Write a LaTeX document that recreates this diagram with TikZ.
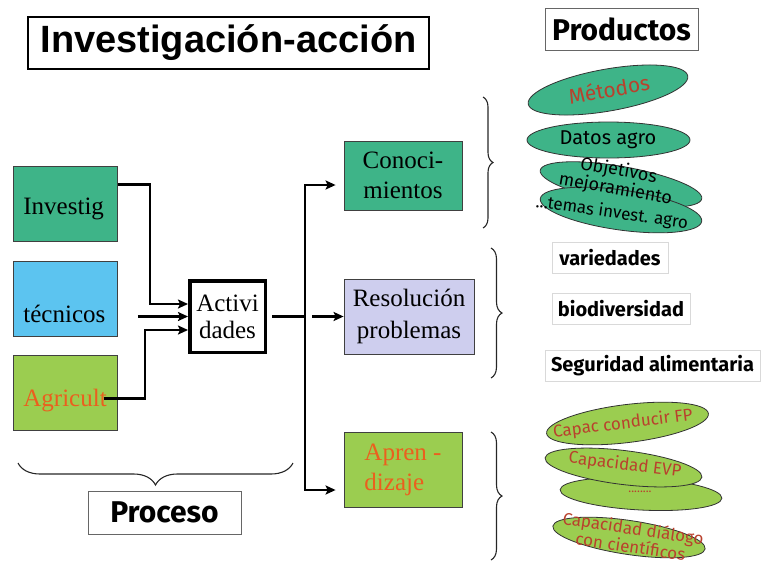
\documentclass[tikz,border=0pt]{standalone}
\usepackage{fontspec}
\setmainfont{Liberation Serif}
\newfontfamily\titlefont{Liberation Sans}
\newfontfamily\comic{Fira Sans}
\usetikzlibrary{shapes.geometric,arrows.meta,decorations.pathreplacing,calc}
\definecolor{tealA}{RGB}{62,180,136}
\definecolor{skyA}{RGB}{92,196,240}
\definecolor{limeA}{RGB}{155,205,80}
\definecolor{lavA}{RGB}{206,206,238}
\definecolor{orngA}{RGB}{235,95,30}
\definecolor{brnA}{RGB}{185,65,45}
\begin{document}
\begin{tikzpicture}[x=1pt,y=-1pt,
  serif25/.style={font=\fontsize{25}{30}\selectfont},
  box/.style={draw=black!75, line width=0.8pt, inner sep=0pt, align=center, serif25},
  leftbox/.style={box, text width=84pt, align=left, minimum width=104pt, anchor=north west},
  arr/.style={line width=2.2pt, -{Stealth[length=10pt,width=9pt,inset=2pt]}},
  plain/.style={line width=2.2pt},
  ell/.style={ellipse, draw=black!80, line width=0.8pt, inner sep=0pt},
  ctext/.style={font=\comic\fontsize{17}{16}\selectfont, inner sep=0pt, align=center},
  pbox/.style={draw=black!15, line width=0.8pt, inner sep=0pt, minimum height=31pt, font=\comic\bfseries\fontsize{20}{20}\selectfont},
  bracestyle/.style={decorate, line width=1.1pt, black!85}
]
\useasboundingbox (0,0) rectangle (761,563);

% titles
\node[draw, line width=2.2pt, minimum width=401pt, minimum height=52pt, inner sep=0pt,
      font=\titlefont\bfseries\fontsize{38}{40}\selectfont] (title) at (228.5,43) {Investigación-acción};
\node[draw=black!60, line width=0.8pt, minimum width=153pt, minimum height=42pt, inner sep=0pt,
      font=\comic\bfseries\fontsize{30}{30}\selectfont] (prod) at (621.5,29) {Productos};

% actors
\node[leftbox, fill=tealA, text height=48pt, text depth=27pt] (inv) at (13,166) {Investig};
\node[leftbox, fill=skyA, text height=61pt, text depth=14pt] (tec) at (13,261) {técnicos};
\node[leftbox, fill=limeA, text=orngA, text height=51pt, text depth=24pt] (agr) at (13,355) {Agricult};

\node[draw, line width=3.5pt, minimum width=75.5pt, minimum height=71.5pt, inner sep=0pt, align=center,
      font=\fontsize{25}{27}\selectfont] (act) at (227.5,316.5) {Activi\\dades};

% outcomes
\node[box, fill=tealA, minimum width=118pt, minimum height=69pt] (con) at (403,175.5) {Conoci-\\mientos};
\node[box, fill=lavA, minimum width=130pt, minimum height=75pt, font=\fontsize{25}{32}\selectfont] (res) at (409,316.5) {Resolución\\problemas};
\node[box, fill=limeA, text=orngA, minimum width=118pt, minimum height=75pt, align=left] (apr) at (403,469.5) {Apren -\\dizaje};

% connectors into Actividades
\draw[arr] ($(inv.east)+(0,-19.5)$) -- ++(32,0) |- ($(act.west)+(0,-12.5)$);
\draw[arr, line width=2.8pt] ($(tec.east |- act.west)+(20,0)$) -- (act.west);
\draw[arr] ($(agr.east)+(-14,5.5)$) -- ++(41,0) |- ($(act.west)+(0,13.5)$);

% connectors out of Actividades
\coordinate (j) at ($(act.east)+(38,0)$);
\draw[plain] ($(act.east)+(5,0)$) -- (j);
\draw[arr, shorten >=8pt] (j) |- ($(con.west)+(0,9.5)$);
\draw[arr, shorten >=8pt] (j) |- ($(apr.west)+(0,20.5)$);
\draw[arr, line width=2.6pt] ($(j)+(7,0)$) -- (res.west);

% braces
\draw[bracestyle, decoration={brace, amplitude=10pt}] (483,97) -- (483,228);
\draw[bracestyle, decoration={brace, amplitude=11pt}] (491,248) -- (491,378);
\draw[bracestyle, decoration={brace, amplitude=11pt}] (491,432) -- (491,560);
\draw[bracestyle, decoration={brace, amplitude=22pt, aspect=0.5}] (293,463) -- (18,463);

\node[draw=black!60, line width=0.8pt, minimum width=153pt, minimum height=43pt, inner sep=0pt,
      font=\comic\bfseries\fontsize{30}{30}\selectfont] (proc) at (164.5,512.5) {Proceso};

% products: knowledge ellipses
\node[ell, fill=tealA, minimum width=162pt, minimum height=42pt, rotate=10] (met) at (608,90) {};
\node[ell, fill=tealA, minimum width=163pt, minimum height=36pt] (dat) at (608.5,140) {};
\node[ell, fill=tealA, minimum width=164pt, minimum height=36pt, rotate=-10] (obj) at (621,184.5) {};
\node[ell, fill=tealA, minimum width=163pt, minimum height=40pt, rotate=-8] (tem) at (621,210) {};
\node[ctext, text=brnA, rotate=10, font=\comic\fontsize{21}{21}\selectfont] (metT) at (609,89) {Métodos};
\node[ctext, font=\comic\fontsize{20}{20}\selectfont] (datT) at (608,140) {Datos agro};
\node[ctext, rotate=-10, font=\comic\fontsize{18}{16}\selectfont] (objT) at (617,180) {Objetivos\\mejoramiento};
\node[ctext, rotate=-8] (temT) at (612,213) {...temas invest. agro};

% products: problem solving boxes
\node[pbox, minimum width=116pt] (var) at (610,257.5) {variedades};
\node[pbox, minimum width=138pt] (bio) at (621,309) {biodiversidad};
\node[pbox, minimum width=215pt] (seg) at (652.5,366) {Seguridad alimentaria};

% products: learning ellipses
\node[ell, fill=limeA, minimum width=163pt, minimum height=38pt, rotate=7] (cap) at (627.5,423.5) {};
\node[ell, fill=limeA, minimum width=162pt, minimum height=32pt, rotate=-3] (dots) at (641,494) {};
\node[ell, fill=limeA, minimum width=158pt, minimum height=34pt, rotate=-7] (evp) at (623.5,467.5) {};
\node[ell, fill=limeA, minimum width=154pt, minimum height=34pt, rotate=-8.5] (dia) at (629,537.5) {};
\node[ctext, text=brnA, rotate=7] (capT) at (623,424) {Capac conducir FP};
\node[ctext, text=brnA, rotate=-7] (evpT) at (625,465) {Capacidad EVP};
\node[ctext, text=brnA, font=\comic\fontsize{12}{12}\selectfont] (dotsT) at (640,492) {........};
\node[ctext, text=brnA, rotate=-8.5, font=\comic\fontsize{17}{15}\selectfont] (diaT) at (632,537) {Capacidad diálogo\\con científicos};
\end{tikzpicture}
\end{document}
